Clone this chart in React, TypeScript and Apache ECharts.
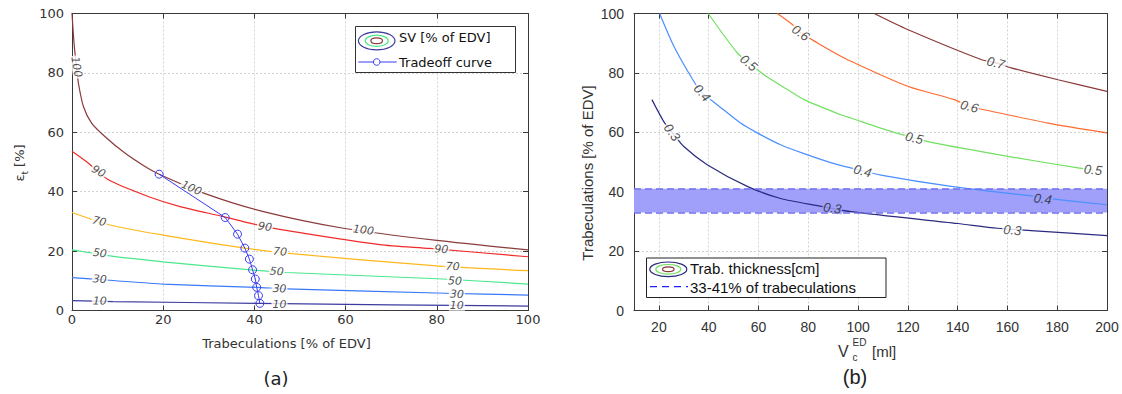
import React, { useEffect, useRef } from 'react';
import * as echarts from 'echarts';

// ---------- Panel (a): SV contours [% of EDV] vs trabeculations / eps_t ----------
const sv100: number[][] = [[0, 100], [0.5, 89], [1, 82], [1.4, 76.6], [2.5, 68.7], [4.3, 63.1], [7.2, 58.6], [11.6, 53], [16, 48.5], [19.1, 45.9], [29.5, 39.2], [42, 33.3], [59.5, 27.7], [80, 23.6], [100, 20.4]];
const sv90: number[][] = [[0, 53.6], [3.6, 49.6], [8, 44], [16.7, 38.4], [23.7, 35], [33.2, 31.6], [39, 29.4], [44.9, 27.5], [67.5, 22.2], [78.5, 20.9], [100, 18.1]];
const sv70: number[][] = [[0, 33], [8.3, 28.8], [20, 25.4], [37.9, 21], [47, 19.3], [80, 15], [100, 13.4]];
const sv50: number[][] = [[0, 20.4], [8.3, 18.4], [20, 16.4], [39.8, 13.6], [47, 12.8], [81.4, 10.6], [100, 8.9]];
const sv30: number[][] = [[0, 11.1], [9, 10.1], [20, 8.9], [40.4, 7.8], [47, 7.3], [82, 5.8], [100, 5.2]];
const sv10: number[][] = [[0, 3.3], [9, 3.0], [41.2, 2.4], [70, 1.9], [100, 1.5]];
const tradeoff: number[][] = [[19.1, 45.9], [33.6, 31.3], [36.3, 25.7], [37.9, 21], [38.9, 17.3], [39.6, 13.7], [40.2, 10.6], [40.5, 7.8], [40.9, 5.0], [41.2, 2.4]];
const svLabels: [string, number, number][] = [
  ['100', 1, 82], ['100', 26.2, 41.2], ['100', 63.9, 27.1],
  ['90', 5.8, 46.8], ['90', 42.3, 28.2], ['90', 81, 20.6],
  ['70', 6, 30], ['70', 45.6, 19.8], ['70', 83.5, 14.8],
  ['50', 6.1, 19.3], ['50', 44.9, 13.1], ['50', 84, 9.9],
  ['30', 6.1, 10.5], ['30', 45.5, 7.3], ['30', 84.4, 5.5],
  ['10', 6.1, 3.2], ['10', 45.5, 2.1], ['10', 84.4, 1.6],
];
const svLabelRot = [-80, -24, -7, -30, -8, -5, -13, -5, -3, -8, -4, -3, -4, -2, -2, -1, 0, 0];
const axisTicksA = [0, 100, 20];

// ---------- Panel (b): trabecular thickness [cm] vs V_c^ED ----------
const th03: number[][] = [[17.2, 71], [21.9, 63.7], [25.3, 60], [30, 55.2], [39.4, 49.1], [55.5, 41.8], [68.9, 37.7], [83.7, 35.3], [97.1, 33.3], [140, 29.3], [156, 27.7], [169.5, 26.9], [200, 25.2]];
const th04: number[][] = [[20.3, 100], [26, 89], [34, 77.2], [37.4, 73.3], [43.4, 69.3], [52.8, 63.1], [59.5, 59.8], [68.9, 55.8], [78.3, 52.8], [89, 49.8], [97.1, 48], [109.2, 45.6], [137.4, 41.8], [170.9, 38.4], [174.2, 37.9], [200, 35.6]];
const th05: number[][] = [[39.8, 100], [51.5, 86.7], [56.1, 83.4], [62.2, 79.4], [71.6, 74.4], [78.3, 71], [93.1, 65.9], [97.1, 64.8], [113.3, 60.3], [122.6, 58.1], [129.3, 56.6], [160.2, 51.9], [188.4, 48], [194.4, 47.4]];
const th06: number[][] = [[67.6, 100], [73.6, 96.3], [77, 93.5], [83.7, 90.1], [93.1, 85.6], [97.1, 83.9], [119.9, 75.5], [138.7, 71], [144.7, 68.7], [150.7, 67.6], [176.3, 63.1], [200, 59.8]];
const th07: number[][] = [[106.5, 100], [119.9, 94.6], [149.4, 84.5], [155.4, 83.4], [161.5, 81.7], [180.3, 77.7], [200, 73.8]];
const thLabels: [string, number, number][] = [
  ['0.3', 25.3, 60], ['0.3', 89.7, 34.5], ['0.3', 162, 27.1],
  ['0.4', 37.4, 73.3], ['0.4', 101.8, 47.0], ['0.4', 174.2, 37.6],
  ['0.5', 56.1, 83.4], ['0.5', 122.6, 58.1], ['0.5', 194.4, 47.4],
  ['0.6', 77, 93.5], ['0.6', 144.7, 68.7],
  ['0.7', 155.4, 83.4],
];
const thLabelRot = [-53, -8, -5, -48, -14, -7, -40, -13, -6, -36, -15, -14];
const bandLow = 33;
const bandHigh = 41;
const xRangeB = [10, 200];
const yRangeB = [0, 100, 20];

const FL = 'DejaVu Sans';
const FR = 'Liberation Sans';
const AX = '#3a3a3a';
const BAND = '#a0a0fa';

function axisBase(gridIndex: number, position: string, main: boolean, font: string, size: number, margin: number) {
  return {
    gridIndex,
    type: 'value',
    position,
    axisLine: { show: true, onZero: false, lineStyle: { color: AX, width: 1 } },
    axisTick: { show: true, inside: true, length: 5, lineStyle: { color: AX, width: 1 } },
    axisLabel: main ? { show: true, color: '#333', fontFamily: font, fontSize: size, margin } : { show: false },
    splitLine: main ? { show: true, lineStyle: { color: '#d2d2d2', type: [2, 2], width: 1 } } : { show: false },
  };
}

function lineSeries(data: number[][], color: string, xi: number, yi: number) {
  return {
    type: 'line', xAxisIndex: xi, yAxisIndex: yi, data, smooth: 0.25,
    showSymbol: false, symbol: 'none', z: 3, silent: true,
    lineStyle: { color, width: 1.2 },
  };
}

function labelSeries(labels: [string, number, number][], rot: number[], xi: number, yi: number, font: string, size: number, bgFn: (i: number) => string) {
  return {
    type: 'scatter', xAxisIndex: xi, yAxisIndex: yi, z: 10, silent: true, symbolSize: 1,
    itemStyle: { color: 'rgba(0,0,0,0)' },
    labelLayout: { hideOverlap: false },
    label: {
      show: true, position: 'inside', formatter: '{b}', fontFamily: font, fontSize: size,
      fontStyle: 'italic', color: '#222', padding: [0, 1], lineHeight: 10,
    },
    data: labels.map((l, i) => ({
      name: l[0], value: [l[1], l[2]],
      label: { rotate: rot[i], backgroundColor: bgFn(i) },
    })),
  };
}

export default function App() {
  const ref = useRef<HTMLDivElement>(null);
  useEffect(() => {
    const chart = echarts.init(ref.current!, null, { renderer: 'svg' });
    const option: any = {
      animation: false,
      backgroundColor: '#fff',
      grid: [
        { left: 72, top: 13.5, width: 456, height: 297, outerBoundsMode: 'none' },
        { left: 634, top: 13.5, width: 473, height: 297, outerBoundsMode: 'none' },
      ],
      xAxis: [
        { ...axisBase(0, 'bottom', true, FL, 13, 2), min: axisTicksA[0], max: axisTicksA[1], interval: axisTicksA[2] },
        { ...axisBase(0, 'top', false, FL, 13, 2), min: axisTicksA[0], max: axisTicksA[1], interval: axisTicksA[2] },
        { ...axisBase(1, 'bottom', true, FR, 14, 9), min: xRangeB[0], max: xRangeB[1], splitNumber: 10, axisLabel: { show: true, color: '#333', fontFamily: FR, fontSize: 14, margin: 9, showMinLabel: false } },
        { ...axisBase(1, 'top', false, FR, 14, 9), min: xRangeB[0], max: xRangeB[1], splitNumber: 10 },
      ],
      yAxis: [
        { ...axisBase(0, 'left', true, FL, 13, 8), min: axisTicksA[0], max: axisTicksA[1], interval: axisTicksA[2] },
        { ...axisBase(0, 'right', false, FL, 13, 8), min: axisTicksA[0], max: axisTicksA[1], interval: axisTicksA[2] },
        { ...axisBase(1, 'left', true, FR, 14, 10), min: yRangeB[0], max: yRangeB[1], interval: yRangeB[2] },
        { ...axisBase(1, 'right', false, FR, 14, 10), min: yRangeB[0], max: yRangeB[1], interval: yRangeB[2] },
      ],
      series: [
        lineSeries(sv100, '#8b3a3a', 0, 0),
        lineSeries(sv90, '#f02a2a', 0, 0),
        lineSeries(sv70, '#ffb81c', 0, 0),
        lineSeries(sv50, '#4ae88c', 0, 0),
        lineSeries(sv30, '#3a7af8', 0, 0),
        lineSeries(sv10, '#3c3ca0', 0, 0),
        labelSeries(svLabels, svLabelRot, 0, 0, FL, 11, () => '#fff'),
        {
          type: 'line', xAxisIndex: 0, yAxisIndex: 0, data: tradeoff, z: 11, silent: true,
          symbol: 'circle', symbolSize: 8, showSymbol: true,
          itemStyle: { color: 'rgba(0,0,0,0)', borderColor: '#3a3af5', borderWidth: 1 },
          lineStyle: { color: '#3a3af5', width: 1 },
        },
        {
          type: 'line', xAxisIndex: 2, yAxisIndex: 2, data: [], z: 1, silent: true,
          markArea: { silent: true, itemStyle: { color: BAND }, data: [[{ yAxis: bandLow }, { yAxis: bandHigh }]] },
          markLine: {
            silent: true, symbol: 'none', label: { show: false },
            lineStyle: { color: '#7070f0', type: [7, 4], width: 1.5 },
            data: [{ yAxis: bandLow }, { yAxis: bandHigh }],
          },
        },
        lineSeries(th03, '#2a2a80', 2, 2),
        lineSeries(th04, '#4a90ff', 2, 2),
        lineSeries(th05, '#72e062', 2, 2),
        lineSeries(th06, '#ff6a30', 2, 2),
        lineSeries(th07, '#8b3a3a', 2, 2),
        labelSeries(thLabels, thLabelRot, 2, 2, FR, 13, (i) => {
          const y = thLabels[i][2];
          return y > bandLow && y < bandHigh ? BAND : '#fff';
        }),
      ],
      graphic: [
        // legend (a)
        { type: 'rect', z: 50, shape: { x: 355.5, y: 26.5, width: 160, height: 46 }, style: { fill: '#fff', stroke: '#333', lineWidth: 1 } },
        { type: 'ellipse', z: 51, shape: { cx: 376.7, cy: 40.8, rx: 18.3, ry: 9 }, style: { fill: 'none', stroke: '#3c3ca0', lineWidth: 1.2 } },
        { type: 'ellipse', z: 51, shape: { cx: 376.7, cy: 40.8, rx: 11.5, ry: 5.6 }, style: { fill: 'none', stroke: '#4ae88c', lineWidth: 1.2 } },
        { type: 'ellipse', z: 51, shape: { cx: 376.7, cy: 40.8, rx: 5.8, ry: 2.9 }, style: { fill: 'none', stroke: '#8b3a3a', lineWidth: 1.2 } },
        { type: 'text', z: 51, x: 399, y: 37.5, style: { text: 'SV [% of EDV]', font: '13px "DejaVu Sans"', fill: '#111', align: 'left', verticalAlign: 'middle' } },
        { type: 'line', z: 51, shape: { x1: 358.3, y1: 62, x2: 396.7, y2: 62 }, style: { stroke: '#3a3af5', lineWidth: 1 } },
        { type: 'circle', z: 52, shape: { cx: 376.7, cy: 62, r: 3.3 }, style: { fill: '#fff', stroke: '#3a3af5', lineWidth: 1 } },
        { type: 'text', z: 51, x: 399, y: 62, style: { text: 'Tradeoff curve', font: '13px "DejaVu Sans"', fill: '#111', align: 'left', verticalAlign: 'middle' } },
        // axis titles (a)
        {
          type: 'text', z: 51, x: 19, y: 163, rotation: Math.PI / 2,
          style: {
            text: '{a|ε}{s|t}{a| [%]}', align: 'center', verticalAlign: 'middle', fill: '#333',
            rich: {
              a: { fontFamily: FL, fontSize: 13, lineHeight: 20, fill: '#333', verticalAlign: 'middle' },
              s: { fontFamily: FL, fontSize: 9, lineHeight: 9, fill: '#333', verticalAlign: 'bottom' },
            },
          },
        },
        { type: 'text', z: 51, x: 286.5, y: 343, style: { text: 'Trabeculations [% of EDV]', font: '13px "DejaVu Sans"', fill: '#333', align: 'center', verticalAlign: 'middle' } },
        { type: 'text', z: 51, x: 276, y: 378, style: { text: '(a)', font: '18px "DejaVu Sans"', fill: '#222', align: 'center', verticalAlign: 'middle' } },
        // legend (b)
        { type: 'rect', z: 50, shape: { x: 646.5, y: 258, width: 239.5, height: 39.5 }, style: { fill: '#fff', stroke: '#222', lineWidth: 1 } },
        { type: 'ellipse', z: 51, shape: { cx: 668.3, cy: 269.3, rx: 18.5, ry: 7.3 }, style: { fill: 'none', stroke: '#2a2a80', lineWidth: 1.2 } },
        { type: 'ellipse', z: 51, shape: { cx: 668.3, cy: 269.3, rx: 12.5, ry: 4.8 }, style: { fill: 'none', stroke: '#72e062', lineWidth: 1.2 } },
        { type: 'ellipse', z: 51, shape: { cx: 668.3, cy: 269.3, rx: 5.8, ry: 2.4 }, style: { fill: 'none', stroke: '#8b3a3a', lineWidth: 1.2 } },
        { type: 'text', z: 51, x: 690, y: 268.5, style: { text: 'Trab. thickness[cm]', font: '15px "Liberation Sans"', fill: '#111', align: 'left', verticalAlign: 'middle' } },
        { type: 'line', z: 51, shape: { x1: 650, y1: 286.7, x2: 688, y2: 286.7 }, style: { stroke: '#2020ff', lineWidth: 1.2, lineDash: [7, 5] } },
        { type: 'text', z: 51, x: 690, y: 287, style: { text: '33-41% of trabeculations', font: '15px "Liberation Sans"', fill: '#111', align: 'left', verticalAlign: 'middle' } },
        // axis titles (b)
        { type: 'text', z: 51, x: 587, y: 173, rotation: Math.PI / 2, style: { text: 'Trabeculations [% of EDV]', font: '15px "Liberation Sans"', fill: '#333', align: 'center', verticalAlign: 'middle' } },
        { type: 'text', z: 51, x: 838, y: 351, style: { text: 'V', font: '16px "Liberation Sans"', fill: '#333', align: 'left', verticalAlign: 'middle' } },
        { type: 'text', z: 51, x: 852.5, y: 342, style: { text: 'ED', font: '10px "Liberation Sans"', fill: '#333', align: 'left', verticalAlign: 'middle' } },
        { type: 'text', z: 51, x: 852.5, y: 357.5, style: { text: 'c', font: '10px "Liberation Sans"', fill: '#333', align: 'left', verticalAlign: 'middle' } },
        { type: 'text', z: 51, x: 872, y: 351, style: { text: '[ml]', font: '15px "Liberation Sans"', fill: '#333', align: 'left', verticalAlign: 'middle' } },
        { type: 'text', z: 51, x: 855, y: 377, style: { text: '(b)', font: '20px "Liberation Sans"', fill: '#222', align: 'center', verticalAlign: 'middle' } },
      ],
    };
    chart.setOption(option);
    return () => chart.dispose();
  }, []);
  return <div ref={ref} style={{ position: 'absolute', left: 0, top: 0, width: 1122, height: 394, background: '#fff' }} />;
}
